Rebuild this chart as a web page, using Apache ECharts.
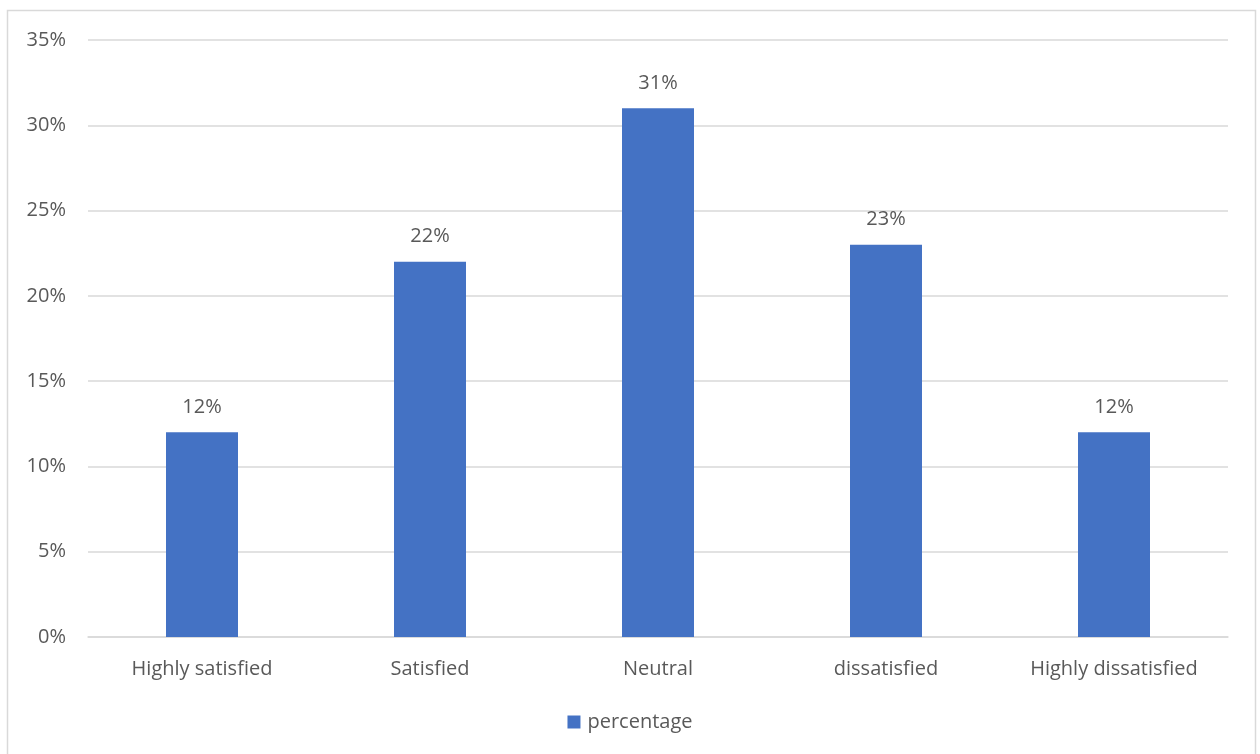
<!doctype html>
<html>
<head>
    <meta charset="UTF-8">
    <title>percentage</title>
    <script src="https://cdn.jsdelivr.net/npm/echarts@6/dist/echarts.min.js"></script>
    <style>
        html, body { margin: 0; padding: 0; background: #fff; }
    </style>
</head>
<body>
<div id="main" style="width: 1260px;height:754px;"></div>
<script type="text/javascript">
    // data
    var categories = ['Highly satisfied', 'Satisfied', 'Neutral', 'dissatisfied', 'Highly dissatisfied'];
    var values = [12, 22, 31, 23, 12];
    var seriesName = 'percentage';

    var textColor = '#595959';
    var fontFamily = 'Open Sans, Noto Sans, sans-serif';

    var myChart = echarts.init(document.getElementById('main'));
    var option = {
        animation: false,
        textStyle: { fontFamily: fontFamily },
        graphic: [{
            type: 'rect',
            shape: { x: 7.5, y: 10.5, width: 1248, height: 760 },
            style: { fill: 'none', stroke: '#d9d9d9', lineWidth: 1.5 },
            silent: true
        }],
        grid: { left: 88, right: 32, top: 40, bottom: 117 },
        legend: {
            bottom: 17,
            left: 'center',
            itemWidth: 13,
            itemHeight: 13,
            itemGap: 8,
            icon: 'rect',
            textStyle: { color: textColor, fontSize: 20, fontFamily: fontFamily, padding: [0, 0, 0, 2] },
            data: [seriesName]
        },
        xAxis: {
            type: 'category',
            data: categories,
            axisTick: { show: false },
            axisLine: { lineStyle: { color: '#d9d9d9', width: 1.5 } },
            axisLabel: { color: textColor, fontSize: 20, margin: 22 }
        },
        yAxis: {
            type: 'value',
            min: 0,
            max: 35,
            interval: 5,
            axisLine: { show: false },
            axisTick: { show: false },
            splitLine: { lineStyle: { color: '#d9d9d9', width: 1.5 } },
            axisLabel: { color: textColor, fontSize: 20, margin: 22, formatter: '{value}%' }
        },
        series: [{
            name: seriesName,
            type: 'bar',
            data: values,
            barWidth: 72,
            itemStyle: { color: '#4472c4' },
            label: {
                show: true,
                position: 'top',
                distance: 15,
                color: textColor,
                fontSize: 20,
                formatter: '{c}%'
            }
        }]
    };
    myChart.setOption(option);
</script>
</body>
</html>
